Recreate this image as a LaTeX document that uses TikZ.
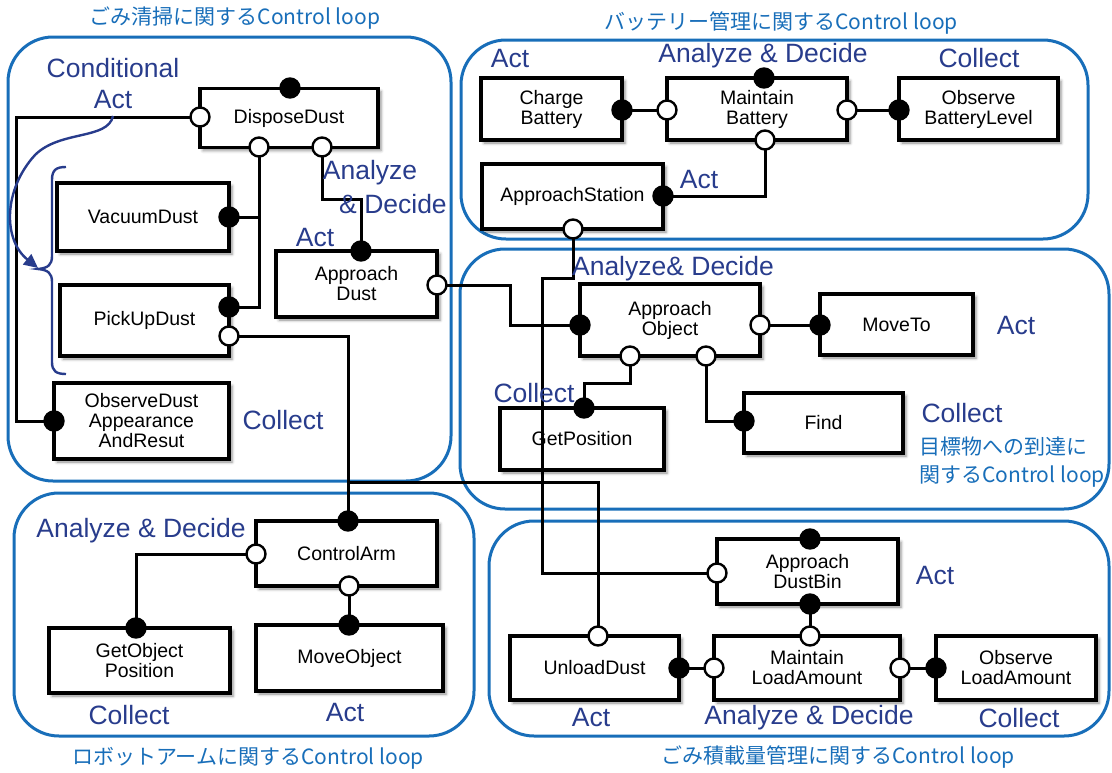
\documentclass[tikz,border=0pt]{standalone}
\usepackage{fontspec}
\setmainfont{Liberation Sans}
\newfontfamily\cjk{Noto Sans CJK JP}
\usetikzlibrary{shadows.blur,arrows.meta}
\definecolor{loopblue}{RGB}{24,110,185}
\definecolor{navy}{RGB}{40,60,140}
\pgfdeclarelayer{portlayer}
\pgfsetlayers{main,portlayer}
\tikzset{
  loopframe/.style={draw=loopblue, line width=3pt, rounded corners=45pt},
  looptitle/.style={text=loopblue, font=\cjk\fontsize{21}{28}\selectfont, inner sep=0pt},
  phase/.style={text=navy, font=\fontsize{26.5}{32}\selectfont, inner sep=0pt, align=center},
  comp/.style={draw, line width=3.2pt, fill=white, align=center, inner sep=2pt,
    font=\fontsize{19.5}{20}\selectfont,
    blur shadow={shadow xshift=3pt, shadow yshift=-3pt, shadow blur radius=3pt, shadow opacity=45}},
  wire/.style={line width=3pt},
  portf/.style={circle, draw, line width=2.4pt, fill=black, minimum size=19pt, inner sep=0pt},
  porto/.style={circle, draw, line width=2.4pt, fill=white, minimum size=19pt, inner sep=0pt},
  annot/.style={draw=navy, line width=2.4pt},
}
% component box: name, centre x, centre y, width, height, text
\newcommand\comp[6]{\node[comp, minimum width=#4pt, minimum height=#5pt] (#1) at (#2,#3) {#6};}
% filled and open ports
\newcommand\pf[3]{\node[portf] (#1) at (#2,#3) {};}
\newcommand\po[3]{\node[porto] (#1) at (#2,#3) {};}
\begin{document}
\begin{tikzpicture}[x=1pt, y=-1pt]
\useasboundingbox (0,0) rectangle (1112,772);

% ---- loop frames ----
\draw[loopframe] (8,37) rectangle (451,481);
\draw[loopframe] (461,40) rectangle (1088,239);
\draw[loopframe] (460,249) rectangle (1109,509);
\draw[loopframe] (14,493) rectangle (474,736);
\draw[loopframe] (489,521) rectangle (1109,736);

% ---- loop titles ----
\node[looptitle] (t1) at (235,18) {ごみ清掃に関するControl loop};
\node[looptitle] (t2) at (781,23) {バッテリー管理に関するControl loop};
\node[looptitle, anchor=west] (t3a) at (919,447) {目標物への到達に};
\node[looptitle, anchor=west] (t3b) at (919,477) {関するControl loop};
\node[looptitle] (t4) at (248,758) {ロボットアームに関するControl loop};
\node[looptitle] (t5) at (838,757) {ごみ積載量管理に関するControl loop};

% ---- components ----
\comp{dd}{289}{118}{178}{59}{DisposeDust}
\comp{vd}{143}{217}{172}{68}{VacuumDust}
\comp{pu}{144.5}{320.5}{169}{71}{PickUpDust}
\comp{od}{141.5}{421}{175}{76}{ObserveDust\\Appearance\\AndResut}
\comp{ad}{356.5}{284}{161}{66}{Approach\\Dust}

\comp{cb}{551.5}{109}{141}{62}{Charge\\Battery}
\comp{mb}{757}{109}{180}{62}{Maintain\\Battery}
\comp{obl}{978.5}{109}{159}{62}{Observe\\BatteryLevel}
\comp{as}{572.5}{196.5}{181}{65}{ApproachStation}

\comp{ao}{670}{320}{180}{72}{Approach\\Object}
\comp{mt}{896.5}{324.5}{153}{61}{MoveTo}
\comp{fd}{823.5}{423}{159}{60}{Find}
\comp{gp}{582}{439}{164}{62}{GetPosition}

\comp{ca}{346.5}{553.5}{181}{65}{ControlArm}
\comp{gop}{139.5}{660.5}{181}{65}{GetObject\\Position}
\comp{mo}{349.5}{658}{187}{66}{MoveObject}

\comp{adb}{807.5}{571.5}{181}{65}{Approach\\DustBin}
\comp{ud}{594.5}{668}{169}{64}{UnloadDust}
\comp{mla}{807}{668}{186}{64}{Maintain\\LoadAmount}
\comp{ola}{1016}{668}{160}{64}{Observe\\LoadAmount}

% ---- ports ----
\begin{pgfonlayer}{portlayer}
\pf{dd-t}{290}{88} \po{dd-l}{200}{117} \po{dd-b1}{259}{147} \po{dd-b2}{322}{147}
\pf{vd-r}{229}{217}
\pf{pu-r1}{229}{307} \po{pu-r2}{229}{336}
\pf{od-l}{54}{421}
\pf{ad-t}{361}{251} \po{ad-r}{437}{285}

\pf{cb-r}{622}{110}
\po{mb-l}{667}{110} \pf{mb-t}{764}{78} \po{mb-r}{847}{110} \po{mb-b}{765}{140}
\pf{obl-l}{899}{110}
\pf{as-r}{663}{196} \po{as-b}{573}{229}

\pf{ao-l}{580}{325} \po{ao-r}{760}{325} \po{ao-b1}{630}{356} \po{ao-b2}{706}{356}
\pf{mt-l}{820}{325}
\pf{fd-l}{744}{421}
\pf{gp-t}{584}{408}

\pf{ca-t}{348}{521} \po{ca-l}{256}{554} \po{ca-b}{349}{586}
\pf{gop-t}{136}{628}
\pf{mo-t}{349}{625}

\pf{adb-t}{810}{539} \po{adb-l}{717}{573} \pf{adb-b}{810}{604}
\po{ud-t}{598}{636} \pf{ud-r}{679}{668}
\po{mla-l}{714}{668} \po{mla-t}{810}{636} \po{mla-r}{900}{668}
\pf{ola-l}{936}{668}
\end{pgfonlayer}

% ---- connectors ----
\draw[wire] (dd-l.center) -- ++(-184,0) |- (od-l.center);
\draw[wire] (dd-b1.center) |- (pu-r1.center);
\draw[wire] (vd-r.center) -| (dd-b1.center);
\draw[wire] (dd-b2.center) -- ++(0,52) -| (ad-t.center);
\draw[wire] (ad-r.center) -- ++(73,0) |- (ao-l.center);

\draw[wire] (cb-r.center) -- (mb-l.center);
\draw[wire] (mb-r.center) -- (obl-l.center);
\draw[wire] (mb-b.center) |- (as-r.center);
\draw[wire] (as-b.center) -- ++(0,49) -- ++(-31,0) |- (adb-l.center);

\draw[wire] (pu-r2.center) -| (ca-t.center);
\coordinate (armjoin) at (348,482);
\draw[wire] (armjoin) -| (ud-t.center);
\draw[wire] (ca-l.center) -| (gop-t.center);
\draw[wire] (ca-b.center) -- (mo-t.center);

\draw[wire] (ao-r.center) -- (mt-l.center);
\draw[wire] (ao-b1.center) -- ++(0,27) -| (gp-t.center);
\draw[wire] (ao-b2.center) |- (fd-l.center);

\draw[wire] (adb-b.center) -- (mla-t.center);
\draw[wire] (ud-r.center) -- (mla-l.center);
\draw[wire] (mla-r.center) -- (ola-l.center);

% ---- phase labels ----
\node[phase] (cact) at (113,84) {Conditional\\[-1pt]Act};
\node[phase] (l1) at (370,173) {Analyze};
\node[phase] (l2) at (393,204) {\& Decide};
\node[phase] (l3) at (315,238) {Act};
\node[phase] (l4) at (283,420) {Collect};

\node[phase] (l5) at (510,59) {Act};
\node[phase] (l6) at (763,56) {Analyze \& Decide};
\node[phase] (l7) at (979,58) {Collect};
\node[phase] (l8) at (699,180) {Act};

\node[phase] (l9) at (673,269) {Analyze\& Decide};
\node[phase] (l10) at (1016,326) {Act};
\node[phase] (l11) at (534,393) {Collect};
\node[phase] (l12) at (962,413) {Collect};

\node[phase] (l13) at (141,531) {Analyze \& Decide};
\node[phase] (l14) at (129,715) {Collect};
\node[phase] (l15) at (345,713) {Act};

\node[phase] (l16) at (935,576) {Act};
\node[phase] (l17) at (591,718) {Act};
\node[phase] (l18) at (809,718) {Analyze \& Decide};
\node[phase] (l19) at (1019,718) {Collect};

% ---- brace grouping VacuumDust and PickUpDust ----
\draw[annot] (66,167) .. controls (56,167) and (52,170) .. (52,180) -- (52,256)
  .. controls (52,265) and (48,268) .. (38,269)
  .. controls (48,270) and (52,273) .. (52,282) -- (52,362)
  .. controls (52,371) and (56,374) .. (66,374);
% arrow from the Conditional Act label to the brace
\draw[annot, -{Triangle[length=14pt, width=13pt]}] (113,116)
  .. controls (108,140) and (60,130) .. (35,155)
  .. controls (3,190) and (3,240) .. (38,268);
\end{tikzpicture}
\end{document}
